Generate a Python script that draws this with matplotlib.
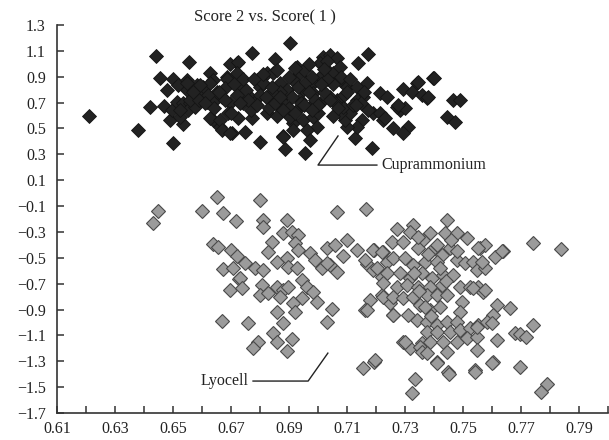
import matplotlib.pyplot as plt
from matplotlib.ticker import FixedLocator

plt.rcParams['font.family'] = ['Liberation Serif', 'DejaVu Serif']

# Cuprammonium scores (score 1, score 2)
cupra_x = [0.621, 0.6378, 0.642, 0.644, 0.650, 0.6555, 0.6455, 0.6478, 0.647, 0.649,
           0.650, 0.6517, 0.6535, 0.6524, 0.6497, 0.6548, 0.6548, 0.6514, 0.6535, 0.6559,
           0.6552, 0.6583, 0.6576, 0.6603, 0.6617, 0.6628, 0.6638, 0.6645, 0.6638, 0.6662,
           0.6669, 0.6686, 0.6697, 0.669, 0.6703, 0.672, 0.6772, 0.6852, 0.6903, 0.6697,
           0.6724, 0.672, 0.6686, 0.6628, 0.6652, 0.6628, 0.6662, 0.6669, 0.6697, 0.6748,
           0.6724, 0.6772, 0.680, 0.6879, 0.6886, 0.6766, 0.679, 0.680, 0.6824, 0.6845,
           0.6869, 0.6893, 0.6834, 0.6869, 0.6824, 0.6914, 0.6928, 0.6731, 0.6741, 0.6593,
           0.6559, 0.6524, 0.6548, 0.6593, 0.7172, 0.7138, 0.7397, 0.7341, 0.7293, 0.7324,
           0.7359, 0.7376, 0.7466, 0.7445, 0.7472, 0.7283, 0.7272, 0.731, 0.7293, 0.7259,
           0.7186, 0.7128, 0.7214, 0.7238, 0.7169, 0.719, 0.7214, 0.7224, 0.7172, 0.7152,
           0.7134, 0.710, 0.7093, 0.711, 0.7076, 0.7086, 0.7066, 0.7041, 0.7017, 0.7041,
           0.7066, 0.7007, 0.7031, 0.7052, 0.7076, 0.7007, 0.7076, 0.710, 0.7134, 0.7155,
           0.7134, 0.6983, 0.6938, 0.6914, 0.6893, 0.6948, 0.6983, 0.6938, 0.6972, 0.7007,
           0.6928, 0.6903, 0.6948, 0.6983, 0.6997, 0.6914, 0.6962, 0.6879, 0.6972, 0.6955,
           0.6869, 0.749, 0.74, 0.7345, 0.7379, 0.730, 0.7276, 0.7231,
           0.675, 0.678, 0.680, 0.683, 0.686, 0.677, 0.672, 0.668, 0.684, 0.688,
           0.690, 0.693, 0.696, 0.699, 0.702, 0.705, 0.708, 0.695, 0.697, 0.703,
           0.700, 0.705, 0.690, 0.686, 0.681, 0.674, 0.670, 0.664, 0.662,
           0.676, 0.679, 0.682, 0.685, 0.688, 0.691, 0.694, 0.697, 0.700, 0.703,
           0.706, 0.709, 0.712, 0.715, 0.678, 0.681, 0.684, 0.687, 0.692, 0.695,
           0.698, 0.701, 0.704, 0.707, 0.710, 0.713, 0.716, 0.671, 0.673, 0.666,
           0.659, 0.657, 0.661, 0.668, 0.692, 0.698, 0.702, 0.711]
cupra_y = [0.596, 0.488, 0.666, 1.06, 0.387, 1.014, 0.89, 0.797, 0.674, 0.565,
           0.88, 0.836, 0.534, 0.589, 0.643, 0.875, 0.797, 0.705, 0.697, 0.697,
           0.643, 0.836, 0.666, 0.82, 0.705, 0.929, 0.875, 0.72, 0.565, 0.511,
           0.743, 0.898, 0.697, 0.619, 0.465, 1.006, 1.083, 1.037, 1.16, 0.998,
           1.014, 0.929, 0.882, 0.851, 0.782, 0.581, 0.565, 0.488, 0.465, 0.473,
           0.581, 0.581, 0.395, 0.442, 0.341, 0.743, 0.875, 0.82, 0.929, 0.929,
           0.851, 0.774, 0.72, 0.666, 0.619, 0.542, 0.975, 0.82, 0.697, 0.743,
           0.72, 0.643, 0.851, 0.836, 1.076, 1.006, 0.89, 0.851, 0.805, 0.782,
           0.759, 0.736, 0.72, 0.589, 0.55, 0.643, 0.666, 0.511, 0.465, 0.503,
           0.349, 0.426, 0.774, 0.743, 0.851, 0.619, 0.619, 0.565, 0.643, 0.565,
           0.511, 0.511, 0.565, 0.619, 0.619, 0.666, 0.72, 0.743, 1.053, 1.068,
           1.045, 1.006, 0.952, 0.929, 0.975, 0.898, 0.875, 0.82, 0.82, 0.743,
           0.72, 0.851, 0.929, 0.875, 0.797, 0.797, 0.774, 0.72, 0.666, 0.697,
           0.643, 0.589, 0.565, 0.589, 0.511, 0.488, 0.488, 0.434, 0.411, 0.31,
           0.782, 0.72, 0.89, 0.859, 0.743, 0.658, 0.682, 0.581,
           0.80, 0.70, 0.76, 0.66, 0.60, 0.64, 0.76, 0.81, 0.78, 0.70,
           0.66, 0.82, 0.86, 0.72, 0.78, 0.84, 0.90, 0.95, 1.00, 1.02,
           0.62, 0.60, 0.90, 0.95, 0.85, 0.88, 0.62, 0.66, 0.76,
           0.72, 0.68, 0.74, 0.70, 0.64, 0.74, 0.70, 0.78, 0.68, 0.88,
           0.70, 0.76, 0.68, 0.70, 0.88, 0.92, 0.82, 0.74, 0.62, 0.68,
           0.64, 0.84, 0.72, 0.66, 0.78, 0.68, 0.78, 0.84, 0.70, 0.78,
           0.72, 0.78, 0.70, 0.72, 0.97, 0.90, 0.96, 0.88]

# Lyocell scores
lyo_x = [0.6431, 0.6448, 0.660, 0.6652, 0.6672, 0.6717, 0.6638, 0.6655, 0.670, 0.6721,
         0.6672, 0.6707, 0.6728, 0.6697, 0.6669, 0.680, 0.7066, 0.7166, 0.681, 0.681,
         0.6893, 0.6879, 0.691, 0.6931, 0.6841, 0.6921, 0.6828, 0.6931, 0.6972, 0.7031,
         0.7059, 0.710, 0.7134, 0.7086, 0.6748, 0.6783, 0.681, 0.6859, 0.6893, 0.6897,
         0.6928, 0.699, 0.7014, 0.7041, 0.7066, 0.6731, 0.6738, 0.6807, 0.680, 0.6828,
         0.6859, 0.6879, 0.6869, 0.6897, 0.6945, 0.6962, 0.6983, 0.6997, 0.6945, 0.6914,
         0.6921, 0.6859, 0.6759, 0.6879, 0.7031, 0.7048, 0.6845, 0.6859, 0.691, 0.6793,
         0.6776, 0.6893, 0.7031, 0.7169, 0.719, 0.7221, 0.7193, 0.7224, 0.7238, 0.7179,
         0.7162, 0.7221, 0.7248, 0.7259, 0.7155, 0.7193, 0.7334, 0.7324, 0.7293, 0.7317,
         0.7359, 0.7341, 0.7445, 0.7272, 0.7328, 0.7317, 0.7386, 0.7438, 0.7479, 0.7514,
         0.7559, 0.7576, 0.7638, 0.761, 0.7255, 0.7293, 0.7362, 0.741, 0.7455, 0.7345,
         0.7386, 0.7428, 0.719, 0.7221, 0.7162, 0.7259, 0.730, 0.7328, 0.7369, 0.741,
         0.7479, 0.7507, 0.7534, 0.7548, 0.7576, 0.7203, 0.7238, 0.7283, 0.7317, 0.7359,
         0.7393, 0.7431, 0.7466, 0.7224, 0.7272, 0.7307, 0.7345, 0.7386, 0.7428, 0.749,
         0.7524, 0.7552, 0.7569, 0.7224, 0.7259, 0.7293, 0.7328, 0.7376, 0.741, 0.7445,
         0.7497, 0.7169, 0.7259, 0.731, 0.7352, 0.7386, 0.7421, 0.749, 0.7617, 0.7603,
         0.7376, 0.741, 0.7445, 0.7479, 0.7376, 0.741, 0.7455, 0.749, 0.7524, 0.7552,
         0.7583, 0.7386, 0.7431, 0.7479, 0.7514, 0.7548, 0.730, 0.7352, 0.7359, 0.741,
         0.7445, 0.7548, 0.7603, 0.7197, 0.7448, 0.7541, 0.7617, 0.7741, 0.7838, 0.7552,
         0.7634, 0.7566, 0.7534, 0.7576, 0.7662, 0.7741, 0.7679, 0.7697, 0.7717, 0.760,
         0.7548, 0.7541, 0.760, 0.7697, 0.7452, 0.741, 0.779, 0.7769, 0.7376,
         0.7345, 0.738, 0.742, 0.746, 0.733, 0.737, 0.744, 0.748, 0.739, 0.735]
lyo_y = [-0.231, -0.138, -0.138, -0.030, -0.154, -0.216, -0.394, -0.417, -0.44, -0.487,
         -0.587, -0.579, -0.664, -0.749, -0.989, -0.053, -0.146, -0.123, -0.208, -0.262,
         -0.208, -0.309, -0.301, -0.324, -0.378, -0.386, -0.456, -0.44, -0.463, -0.425,
         -0.401, -0.363, -0.44, -0.487, -0.541, -0.579, -0.595, -0.533, -0.502, -0.572,
         -0.579, -0.518, -0.579, -0.556, -0.61, -0.657, -0.734, -0.711, -0.788, -0.773,
         -0.726, -0.749, -0.804, -0.726, -0.672, -0.726, -0.765, -0.842, -0.811, -0.85,
         -0.92, -0.92, -1.005, -1.005, -0.997, -0.896, -1.082, -1.152, -1.128, -1.152,
         -1.198, -1.221, -0.541, -0.548, -0.595, -0.649, -0.44, -0.456, -0.533, -0.827,
         -0.904, -0.788, -0.85, -0.943, -1.353, -1.306, -1.438, -1.546, -1.152, -1.198,
         -1.159, -0.981, -0.208, -0.278, -0.247, -0.301, -0.309, -0.309, -0.309, -0.347,
         -0.425, -0.401, -0.448, -0.494, -0.378, -0.378, -0.363, -0.401, -0.425, -0.425,
         -0.456, -0.479, -0.44, -0.456, -0.518, -0.502, -0.502, -0.556, -0.533, -0.533,
         -0.518, -0.541, -0.533, -0.595, -0.579, -0.579, -0.618, -0.618, -0.657, -0.618,
         -0.657, -0.633, -0.633, -0.695, -0.726, -0.711, -0.726, -0.726, -0.711, -0.726,
         -0.726, -0.726, -0.765, -0.804, -0.804, -0.811, -0.804, -0.788, -0.788, -0.788,
         -0.842, -0.904, -0.943, -0.943, -0.866, -0.904, -0.881, -0.92, -0.866, -0.943,
         -0.997, -1.02, -0.997, -0.997, -1.074, -1.074, -1.074, -1.059, -1.043, -1.02,
         -0.997, -1.152, -1.152, -1.152, -1.121, -1.113, -1.152, -1.19, -1.229, -1.306,
         -1.229, -1.214, -1.306, -1.291, -1.384, -1.368, -1.136, -0.386, -0.432, -0.425,
         -0.448, -0.533, -0.734, -0.749, -0.889, -1.02, -1.082, -1.09, -1.113, -1.005,
         -1.036, -1.384, -1.314, -1.345, -1.4, -1.314, -1.477, -1.538, -1.237,
         -0.34, -0.47, -0.58, -0.36, -0.62, -0.88, -0.68, -0.45, -0.95, -0.76]

x_major = [0.61, 0.63, 0.65, 0.67, 0.69, 0.71, 0.73, 0.75, 0.77, 0.79]
x_minor = [0.62, 0.64, 0.66, 0.68, 0.70, 0.72, 0.74, 0.76, 0.78, 0.80]
y_ticks = [1.3, 1.1, 0.9, 0.7, 0.5, 0.3, 0.1, -0.1, -0.3, -0.5, -0.7, -0.9, -1.1, -1.3, -1.5, -1.7]

fig = plt.figure(figsize=(6.09, 4.4), dpi=100)
ax = fig.add_axes([57 / 609, 27 / 440, 551 / 609, 388 / 440])

ax.plot(lyo_x, lyo_y, linestyle='none', marker='D', ms=7.2,
        markerfacecolor='#9b9b9b', markeredgecolor='#4a4a4a', markeredgewidth=0.8)
ax.plot(cupra_x, cupra_y, linestyle='none', marker='D', ms=7.2,
        markerfacecolor='#222222', markeredgecolor='#141414', markeredgewidth=0.6)

ax.set_xlim(0.61, 0.80)
ax.set_ylim(-1.7, 1.3)
ax.xaxis.set_major_locator(FixedLocator(x_major))
ax.xaxis.set_minor_locator(FixedLocator(x_minor))
ax.set_xticklabels([f'{v:.2f}' for v in x_major])
ax.set_yticks(y_ticks)
ax.set_yticklabels([f'{v:.1f}'.replace('-', '\u2212') for v in y_ticks])

for side in ['top', 'right']:
    ax.spines[side].set_visible(False)
for side in ['left', 'bottom']:
    ax.spines[side].set_linewidth(1.2)
    ax.spines[side].set_color('#333333')
ax.tick_params(axis='both', which='both', direction='in', length=5, width=1.1,
               color='#333333', labelsize=11.5, labelcolor='#222222')
ax.tick_params(axis='x', pad=6)
ax.tick_params(axis='y', pad=8)

# annotation leaders
ax.plot([0.7069, 0.7000, 0.7203], [0.442, 0.217, 0.217], color='#222222', lw=1)
ax.text(0.7218, 0.217, 'Cuprammonium', fontsize=11.5, va='center', ha='left', color='#222222')
ax.plot([0.6776, 0.6966, 0.7034], [-1.453, -1.453, -1.237], color='#222222', lw=1)
ax.text(0.6762, -1.453, 'Lyocell', fontsize=11.5, va='center', ha='right', color='#222222')

fig.text(265 / 609, 1 - 17 / 440, 'Score 2 vs. Score(\u20091\u2009)', fontsize=12,
         ha='center', va='center', color='#222222')

plt.savefig('out.png', dpi=100)
plt.close()
